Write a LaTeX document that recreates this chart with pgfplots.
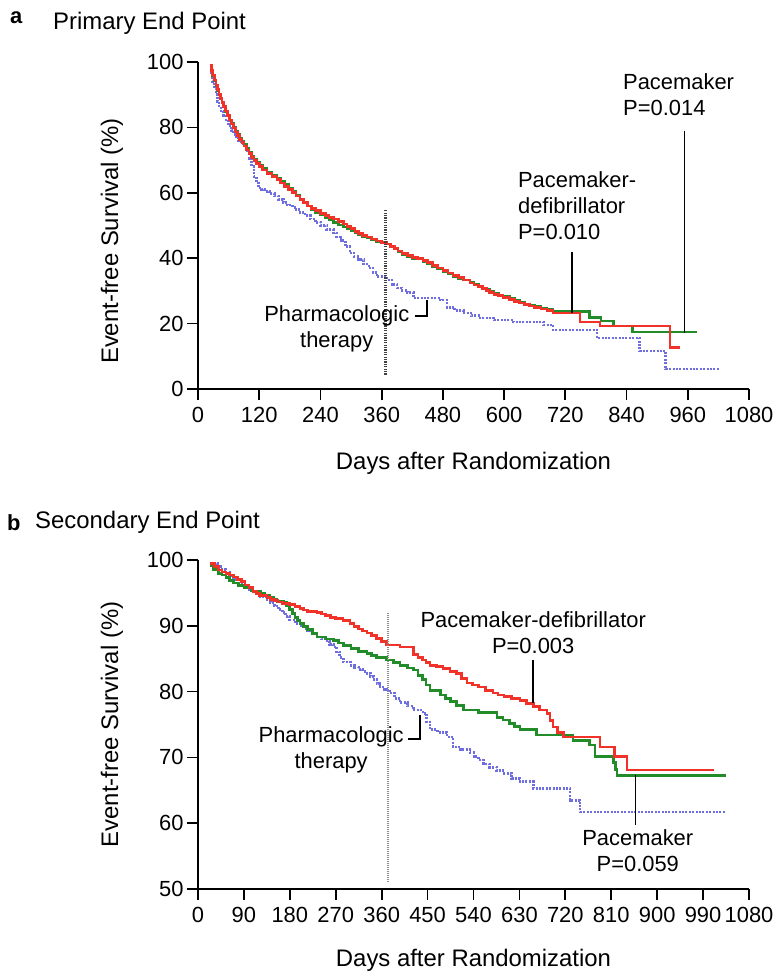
\documentclass[border=0pt]{standalone}
\usepackage{pgfplots}
\pgfplotsset{compat=1.18}
\usepackage{fontspec}
\setmainfont{Liberation Sans}
\definecolor{cred}{RGB}{240,50,40}
\definecolor{cgreen}{RGB}{34,140,40}
\definecolor{cblue}{RGB}{110,110,225}
\pgfplotsset{
  km/.style={
    scale only axis, width=551bp,
    axis lines=left, axis line style={-, line width=1.7bp},
    every tick/.style={line width=1.7bp, black},
    tick align=outside, major tick length=11bp,
    xmin=0, xmax=1080,
    tick label style={font=\fontsize{22}{26}\selectfont},
    xticklabel style={yshift=-4bp},
    /pgf/number format/assume math mode=true,
    /pgf/number format/1000 sep={},
    label style={font=\fontsize{24}{28}\selectfont},
    xlabel={Days after Randomization},
    ylabel={Event-free Survival (\%)},
    clip=false,
  },
  cD/.style={const plot, color=cred, line width=2.7bp},
  cP/.style={const plot, color=cgreen, line width=2.7bp},
  cM/.style={const plot, color=cblue, line width=2.7bp, dash pattern=on 2bp off 1.4bp},
}
\tikzset{ann/.style={font=\fontsize{22}{26}\selectfont, inner sep=0pt}}
\begin{document}
\begin{tikzpicture}
\useasboundingbox (0,0) rectangle (775bp,-975bp);
\node[anchor=base west, inner sep=0pt, font=\bfseries\fontsize{22}{26}\selectfont] at (10bp,-23bp) {a};
\node[anchor=base west, inner sep=0pt, font=\fontsize{24}{28}\selectfont] at (53bp,-29.5bp) {Primary End Point};
\node[anchor=base west, inner sep=0pt, font=\bfseries\fontsize{22}{26}\selectfont] at (7bp,-530bp) {b};
\node[anchor=base west, inner sep=0pt, font=\fontsize{24}{28}\selectfont] at (35bp,-528bp) {Secondary End Point};

\begin{axis}[km, at={(198bp,-389bp)}, anchor=south west, height=327bp,
  ymin=0, ymax=100, xtick={0,120,...,1080}, ytick={0,20,...,100},
  xlabel style={at={(axis description cs:0.5,-0.226)}, anchor=center},
  ylabel style={at={(axis description cs:-0.156,0.4526)}, anchor=center}]
\addplot[cM] coordinates {
(23,98.5)(26,96)(29,94)(32,92)(35,90)(38,88)(41,86.5)(45,85)(50,83.5)(55,82)(60,80.5)
(65,79)(70,77.8)(75,76.8)(80,76)(85,75)(90,74)(96,73)(100,70.5)(105,68)(110,65)(114,63)
(118,61.5)(124,61)(130,60.5)(140,59.8)(150,59)(158,58)(167,57)(175,56.3)(185,55.5)
(192,54.8)(200,54)(210,53)(220,52)(230,51)(240,50)(252,48.8)(265,47.7)(272,46.5)(280,45.5)
(289,43.5)(298,41.6)(306,40.5)(315,39.5)(325,38.2)(335,37)(343,35.6)(351,34.3)(370,33.3)
(380,32)(390,30.9)(400,30.2)(410,29.5)(422,27.8)(475,27.2)(488,25)(503,24)(520,23.2)
(535,22.4)(553,21.7)(580,21.1)(618,20.5)(677,19.6)(696,18)(782,15.6)(866,11.6)(917,6.1)(1023,6.1)};
\addplot[cP] coordinates {
(23,99)(26,97.3)(29,95.8)(32,94.3)(35,92.8)(38,91.3)(41,89.9)(44,88.7)(47,87.5)(50,86.3)
(54,84.9)(58,83.5)(62,82.3)(66,81.1)(70,79.9)(74,78.8)(78,77.8)(82,76.7)(86,75.7)(90,74.7)
(95,73.5)(100,72.4)(105,71.3)(110,70.3)(115,69.4)(120,68.5)(127,67.4)(135,66.4)(145,65.4)
(155,64.4)(162,63.4)(170,62.5)(177,61.5)(185,60.5)(192,59.3)(200,58)(207,57)(215,56)
(222,55)(230,54)(240,53.2)(250,52.5)(257,51.7)(265,51)(275,50.2)(285,49.5)(292,48.9)
(300,48.3)(308,47.7)(315,47.2)(323,46.7)(331,46.2)(340,45.7)(350,45.2)(360,44.8)(370,44.3)
(377,43.5)(385,42.8)(392,42)(400,41.2)(410,40.5)(420,39.8)(441,39)(450,38.3)(460,37.5)
(470,36.7)(480,36)(490,35.2)(500,34.5)(510,33.9)(520,33.3)(533,32.6)(541,32)(550,31.5)
(557,30.9)(565,30.4)(572,29.8)(580,29.2)(589,28.7)(598,28.2)(610,27.6)(620,27)(630,26.5)
(640,26)(650,25.6)(660,25.3)(672,24.8)(684,24.3)(696,23.6)(768,21.8)(790,20.8)
(814,19.3)(851,17.4)(978,17.4)};
\addplot[cD] coordinates {
(23,99)(26,97.5)(29,96)(32,94.5)(35,93)(38,91.5)(41,90)(44,88.8)(47,87.6)(50,86.4)
(54,85)(58,83.6)(62,82.3)(66,81)(70,79.8)(74,78.6)(78,77.5)(82,76.4)(86,75.3)(90,74.3)
(95,73.1)(100,72)(105,70.9)(110,69.9)(115,69)(120,68.1)(127,67)(135,66)(145,65)(155,64)
(162,63)(170,62)(177,61)(185,60)(192,59)(200,58)(207,57)(215,56)(222,55.2)(230,54.5)
(240,53.7)(250,53)(257,52.5)(265,52)(275,51.2)(285,50.5)(292,49.7)(300,49)(308,48.2)
(315,47.5)(323,47)(331,46.5)(340,45.9)(350,45.3)(360,44.8)(370,44.3)(377,43.6)(385,43)
(392,42.2)(400,41.5)(410,40.9)(420,40.3)(430,39.9)(441,39.4)(450,38.6)(460,37.8)(470,37)
(480,36.3)(490,35.5)(500,34.8)(510,34)(520,33.3)(533,32.4)(541,31.8)(550,31.3)(557,30.7)
(565,30.2)(572,29.6)(580,29)(589,28.5)(598,28)(610,27.4)(620,26.8)(630,26.3)(640,25.8)
(650,25.4)(660,25)(672,24.5)(684,24)(696,23.2)(749,20.5)(788,19.3)(925,12.8)(945,12.8)};
\addplot[black!75, line width=2.8bp, dash pattern=on 1.2bp off 1.2bp] coordinates {(368,54.7)(368,4.3)};
\node[ann, anchor=north west, align=left] at (axis cs:833,96.5) {Pacemaker\\P=0.014};
\draw[line width=1.5bp] (axis cs:954,79) -- (axis cs:954,17.1);
\node[ann, anchor=north west, align=left] at (axis cs:627,66.5) {Pacemaker-\\defibrillator\\P=0.010};
\draw[line width=1.5bp] (axis cs:733,41.9) -- (axis cs:733,23.2);
\node[ann, align=center] at (axis cs:272,18.5) {Pharmacologic\\therapy};
\draw[line width=1.5bp] (axis cs:425,22.3) -- (axis cs:449,22.3) -- (axis cs:449,27.2);
\end{axis}

\begin{axis}[km, at={(198bp,-889bp)}, anchor=south west, height=329bp,
  ymin=50, ymax=100, xtick={0,90,...,1080}, ytick={50,60,...,100},
  xlabel style={at={(axis description cs:0.5,-0.216)}, anchor=center},
  ylabel style={at={(axis description cs:-0.156,0.5)}, anchor=center}]
\addplot[cM] coordinates {
(30,99.5)(38,99)(45,98.6)(55,98.2)(62,97.6)(69,97)(80,96.5)(90,96)(100,95.5)(110,95)
(122,94.5)(135,94)(142,93.5)(150,93)(158,92.5)(165,92)(172,91.4)(180,90.9)(190,90.4)
(200,90)(207,89.6)(215,89.3)(224,88.8)(233,88.3)(242,88)(250,87.7)(258,87.2)(265,86.8)
(272,86)(278,85.2)(285,84.5)(300,84)(307,83.7)(315,83.4)(323,83.1)(331,82.8)(338,82.3)
(345,81.8)(351,81.2)(357,80.7)(366,80.3)(375,79.8)(385,79)(396,78.3)(410,77.8)(422,77.2)
(441,76.7)(448,75.4)(455,74.2)(470,73.8)(488,73.1)(500,71.6)(515,71.2)(533,70.7)(541,70.1)
(550,69.6)(560,69)(572,68.5)(585,68)(598,67.6)(615,66.8)(631,66.3)(657,65.3)(729,63.5)
(749,61.7)(1035,61.7)};
\addplot[cP] coordinates {
(23,99.2)(30,98.6)(40,98)(47,97.7)(55,97.3)(62,96.9)(69,96.5)(80,96.1)(90,95.8)(105,95.3)
(122,95)(131,94.6)(140,94.3)(148,94)(155,93.7)(167,93.5)(173,93)(180,92.5)(185,91.9)
(190,91.3)(195,90.8)(200,90.4)(207,89.9)(215,89.4)(224,88.8)(233,88.3)(250,88)(265,87.8)
(275,87.4)(285,87)(300,86.5)(315,86.1)(331,85.8)(340,85.5)(350,85.2)(370,84.8)(383,84.4)
(396,84)(410,83.6)(422,83.3)(431,82.5)(440,81.8)(447,81)(455,80.2)(475,79.5)(485,79)
(495,78.5)(507,77.9)(520,77.2)(550,76.8)(586,76.1)(598,75.7)(610,75.2)(620,74.7)(631,74.2)
(664,73.4)(735,72.6)(768,71.9)(778,70.1)(814,69.2)(818,68.2)(821,67.3)(1035,67.3)};
\addplot[cD] coordinates {
(23,99.5)(32,99)(40,98.5)(47,98.2)(55,98)(62,97.7)(69,97.4)(77,97)(85,96.7)(92,96.2)
(100,95.8)(108,95.2)(114,94.9)(120,94.6)(135,94.3)(142,94)(150,93.8)(157,93.6)(165,93.4)
(180,93.2)(190,92.9)(200,92.6)(207,92.4)(215,92.2)(233,92)(242,91.8)(250,91.6)(260,91.3)
(270,91.1)(284,90.8)(298,90.4)(306,89.9)(315,89.5)(323,89.2)(331,88.9)(340,88.5)(350,88.1)
(360,87.6)(370,87.1)(396,86.8)(415,86.8)(422,85.6)(431,85.2)(440,84.8)(447,84.4)(455,84)
(467,83.8)(480,83.5)(494,83.1)(507,82.8)(517,82)(527,81.3)(538,81)(550,80.7)(564,80.2)
(578,79.8)(588,79.5)(600,79.3)(615,79)(631,78.7)(644,78.2)(657,77.7)(670,77.2)(684,76.7)
(690,75.6)(696,74.6)(705,73.8)(716,73.1)(788,71.6)(817,70.1)(841,68.1)(1011,68.1)};
\addplot[black!45, line width=2.2bp, dash pattern=on 1bp off 1bp] coordinates {(372,91.9)(372,51)};
\node[ann, align=center] at (axis cs:657,89) {Pacemaker-defibrillator\\P=0.003};
\draw[line width=1.5bp] (axis cs:657,84.8) -- (axis cs:657,78.3);
\node[ann, align=center] at (axis cs:862,55.85) {Pacemaker\\P=0.059};
\draw[line width=1.5bp] (axis cs:858,67.3) -- (axis cs:858,59.7);
\node[ann, align=center] at (axis cs:261,71.1) {Pharmacologic\\therapy};
\draw[line width=1.5bp] (axis cs:412,72.8) -- (axis cs:435,72.8) -- (axis cs:435,76.4);
\end{axis}
\end{tikzpicture}
\end{document}
